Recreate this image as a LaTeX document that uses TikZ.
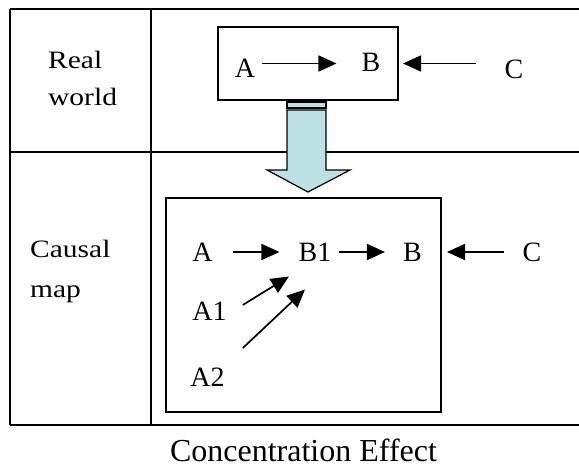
\documentclass[tikz,border=0pt]{standalone}
\usepackage{fontspec}
\setmainfont{Liberation Serif}
\newfontfamily\widefont{Liberation Serif}[FakeStretch=1.18]
\usetikzlibrary{arrows.meta,calc}

\definecolor{arrowblue}{RGB}{189,224,228}

\tikzset{
  letter/.style={inner sep=0pt, font=\fontsize{28}{28}\selectfont},
  rowlabel/.style={anchor=north west, inner sep=0pt, align=left},
  cause/.style={line width=1.7pt, -{Triangle[length=18pt,width=16pt]}},
  frame/.style={line width=2pt}
}

\begin{document}
\begin{tikzpicture}[x=1pt, y=-1pt]
\useasboundingbox (0,0) rectangle (579,469);

    % Table
    \draw[frame] (10,9) -- (579,9);
    \draw[frame] (10,152) -- (579,152);
    \draw[frame] (10,425) -- (579,425);
    \draw[frame] (10,9) -- (10,425);
    \draw[frame] (151,9) -- (151,425);

    % Row labels
    \node[rowlabel, font=\widefont\fontsize{25}{37}\selectfont] (realLabel) at (48,51) {Real\\world};
    \node[rowlabel, font=\widefont\fontsize{25}{40}\selectfont] (mapLabel) at (30,240) {Causal\\map};

    % Real world
    \node[draw, frame, minimum width=180pt, minimum height=73pt] (realBox) at (308,63.5) {};
    \node[letter] (realA) at (245,68.5) {A};
    \node[letter] (realB) at (371,62.5) {B};
    \node[letter] (realC) at (514,69) {C};
    \draw[cause, shorten <=7pt, shorten >=25pt] (realA.east |- realBox) -- (realB.west |- realBox);
    \draw[cause, shorten <=28pt, shorten >=4pt] (realC.west |- realBox) -- (realBox.east);

    % Block arrow
    \draw[line width=1.2pt, fill=arrowblue] (287,102) rectangle (326,108);
    \draw[line width=1.2pt, fill=arrowblue] (287,110) -- (287,170) -- (267,170) -- (308,192)
        -- (350,170) -- (326,170) -- (326,110) -- cycle;

    % Causal map
    \node[draw, frame, minimum width=275pt, minimum height=214pt] (mapBox) at (303.5,305) {};
    \node[letter] (mapA) at (202.5,252) {A};
    \node[letter] (mapB1) at (315,252) {B1};
    \node[letter] (mapB) at (412.5,252) {B};
    \node[letter] (mapC) at (532,252) {C};
    \node[letter] (mapAa) at (209.5,311.5) {A1};
    \node[letter] (mapAb) at (207.5,377) {A2};
    \draw[cause, shorten <=20pt, shorten >=19pt] (mapA) -- (mapB1);
    \draw[cause, shorten <=7pt, shorten >=18pt] (mapB1) -- (mapB);
    \draw[cause, shorten <=18pt, shorten >=5pt] (mapC) -- (mapBox.east |- mapC);
    \draw[cause] ($(mapAa.east)+(16,-6.5)$) -- ($(mapB1.south)+(-26,15)$);
    \draw[cause] ($(mapAb.east)+(18,-29)$) -- ($(mapB1.south)+(-10,28)$);

    % Caption
    \node[font=\fontsize{32}{32}\selectfont, anchor=base, inner sep=0pt] (caption) at (303.5,461) {Concentration Effect};
\end{tikzpicture}
\end{document}
